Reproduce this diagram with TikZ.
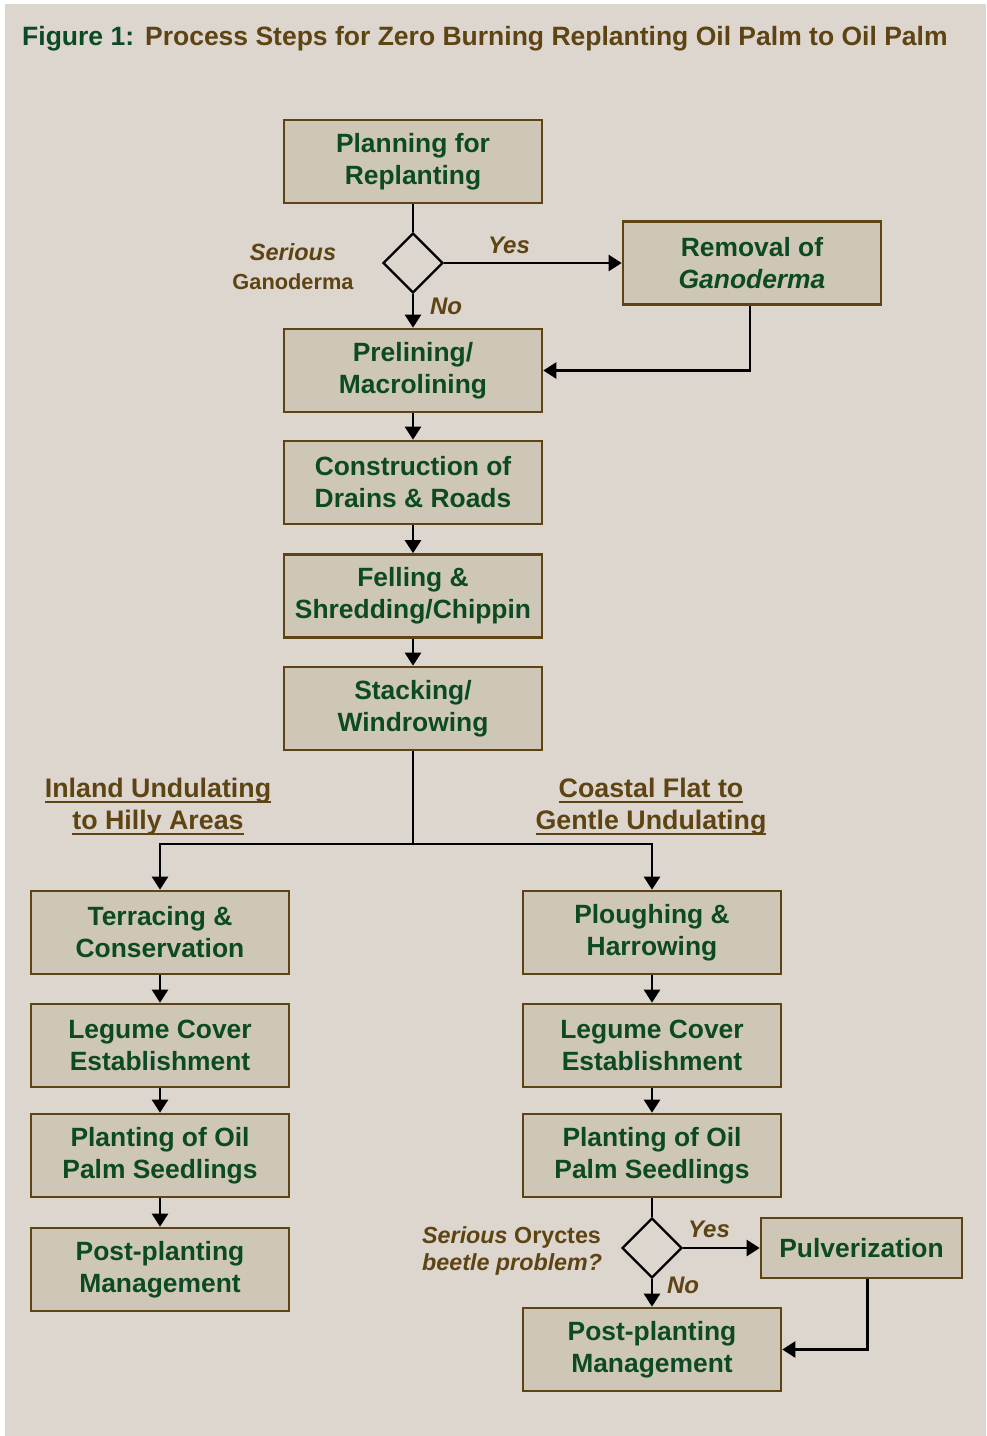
\documentclass[tikz,border=0pt]{standalone}
\usepackage{fontspec}
\setmainfont{Liberation Sans}
\newcommand{\undertext}[1]{\setbox0\hbox{#1}\rlap{\rule[-5pt]{\wd0}{2pt}}\box0}
\usetikzlibrary{shapes.geometric,arrows.meta}
\definecolor{paper}{HTML}{DDD6CF}
\definecolor{boxfill}{HTML}{CEC6B6}
\definecolor{boxline}{HTML}{5E4412}
\definecolor{leaf}{HTML}{0C4A24}
\definecolor{soil}{HTML}{5E4412}

\begin{document}
\begin{tikzpicture}[x=1pt,y=-1pt,
  stepbox/.style={draw=boxline,line width=2.6pt,fill=boxfill,text=leaf,
    font=\fontsize{26.4}{32}\selectfont\bfseries,align=center,
    minimum width=258pt,minimum height=83pt,inner sep=0pt},
  ask/.style={diamond,draw,line width=2.4pt,minimum size=60pt,inner sep=0pt},
  note/.style={text=soil,font=\fontsize{24}{29}\selectfont\bfseries,align=center,inner sep=0pt},
  branch/.style={text=soil,font=\fontsize{26.8}{32}\selectfont\bfseries,align=center},
  flow/.style={line width=2.4pt,-{Triangle[length=13pt,width=16pt]}},
  link/.style={line width=2.4pt}]
\useasboundingbox (0,0) rectangle (986,1436);
\fill[white] (0,0) rectangle (986,1436);
\fill[paper] (5,4) rectangle (986,1436);

\node[anchor=base west,inner sep=0pt,font=\fontsize{26.5}{32}\selectfont\bfseries] (title) at (22,45.5)
  {\textcolor{leaf}{Figure 1:}\hspace{11pt}\textcolor{soil}{Process Steps for Zero Burning Replanting Oil Palm to Oil Palm}};

% main trunk
\node[stepbox] (plan) at (413,161.5) {Planning for\\Replanting};
\node[ask] (gano) at (413,263) {};
\node[stepbox] (remove) at (752,263) {Removal of\\\itshape Ganoderma};
\node[stepbox] (preline) at (413,370.5) {Prelining/\\Macrolining};
\node[stepbox] (drains) at (413,482.5) {Construction of\\Drains \& Roads};
\node[stepbox] (fell) at (413,596) {Felling \&\\Shredding/Chippin};
\node[stepbox] (stack) at (413,708.5) {Stacking/\\Windrowing};

\node[note] (ganolbl) at (293,267) {{\fontsize{23.5}{29}\selectfont\itshape Serious}\\\fontsize{21.8}{29}\selectfont Ganoderma};
\node[note] (yes1) at (509,245) {\itshape Yes};
\node[note] (no1) at (446,306) {\itshape No};

\node[branch] (inland) at (158,807) {\undertext{Inland Undulating}\\\undertext{to Hilly Areas}};
\node[branch] (coastal) at (651,807) {\undertext{Coastal Flat to}\\\undertext{Gentle Undulating}};
\coordinate (split) at (413,844);

% left column
\node[stepbox] (terrace) at (160,932.5) {Terracing \&\\Conservation};
\node[stepbox] (legumeL) at (160,1045.5) {Legume Cover\\Establishment};
\node[stepbox] (plantL) at (160,1155.5) {Planting of Oil\\Palm Seedlings};
\node[stepbox] (postL) at (160,1269.5) {Post-planting\\Management};

% right column
\node[stepbox] (plough) at (652,932.5) {Ploughing \&\\Harrowing};
\node[stepbox] (legumeR) at (652,1045.5) {Legume Cover\\Establishment};
\node[stepbox] (plantR) at (652,1155.5) {Planting of Oil\\Palm Seedlings};
\node[ask] (beetle) at (652,1248) {};
\node[stepbox,minimum width=201pt,minimum height=60pt] (pulv) at (861.5,1248) {Pulverization};
\node[stepbox] (postR) at (652,1349.5) {Post-planting\\Management};

\node[note,align=left,anchor=west,font=\fontsize{23.3}{27}\selectfont\bfseries] (orylbl) at (422,1250.5)
  {{\itshape Serious} Oryctes\\\itshape beetle problem?};
\node[note] (yes2) at (709,1229) {\itshape Yes};
\node[note] (no2) at (683,1285) {\itshape No};

\draw[link] (plan) -- (gano);
\draw[flow] (gano) -- (preline);
\draw[flow] (gano) -- (remove);
\draw[flow] ([xshift=-2pt]remove.south) |- (preline.east);
\draw[flow] (preline) -- (drains);
\draw[flow] (drains) -- (fell);
\draw[flow] (fell) -- (stack);
\draw[link] (stack) -- (split);
\draw[flow] (split) -| (terrace);
\draw[flow] (split) -| (plough);

\draw[flow] (terrace) -- (legumeL);
\draw[flow] (legumeL) -- (plantL);
\draw[flow] (plantL) -- (postL);

\draw[flow] (plough) -- (legumeR);
\draw[flow] (legumeR) -- (plantR);
\draw[link] (plantR) -- (beetle);
\draw[flow] (beetle) -- (postR);
\draw[flow] (beetle) -- (pulv);
\draw[flow] ([xshift=6pt]pulv.south) |- (postR.east);
\end{tikzpicture}
\end{document}
